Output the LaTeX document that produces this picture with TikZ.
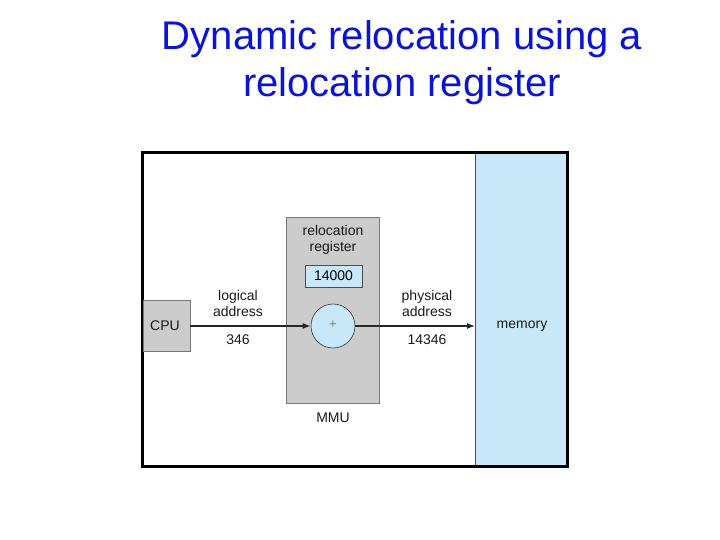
\documentclass[tikz,border=0pt]{standalone}
\usepackage{fontspec}
\setmainfont{Liberation Sans}
\definecolor{titleblue}{RGB}{10,20,210}
\definecolor{boxgray}{RGB}{204,204,204}
\definecolor{edgegray}{RGB}{120,120,120}
\definecolor{lightblue}{RGB}{200,232,250}
\usetikzlibrary{arrows.meta}
\tikzset{
  lbl/.style={font=\fontsize{14}{16}\selectfont, text=black!90, align=center, inner sep=0pt},
  graybox/.style={draw=edgegray, fill=boxgray, line width=0.6pt},
  conn/.style={draw=black!85, line width=1.2pt, -{Latex[length=8pt,width=6pt]}}
}
\begin{document}
\begin{tikzpicture}[x=1pt,y=-1pt]
\useasboundingbox (0,0) rectangle (720,540);
% title
\node[font=\fontsize{40}{47}\selectfont, text=titleblue, align=center, inner sep=0pt] (title) at (402,63) {Dynamic relocation using a\\relocation register};
% memory
\node[draw=black!70, fill=lightblue, line width=0.6pt, minimum width=92pt, minimum height=313pt, inner sep=0pt] (mem) at (521,309.5) {};
\node[lbl] (memtxt) at (522,326) {memory};
% outer frame
\draw[line width=3pt] (142,153) rectangle (567,466);
% CPU
\node[graybox, minimum width=47pt, minimum height=51pt, inner sep=0pt] (cpu) at (166.5,325.5) {};
\node[lbl] (cputxt) at (165,326) {CPU};
% MMU
\node[graybox, minimum width=93pt, minimum height=186pt, inner sep=0pt] (mmu) at (332.5,310) {};
\node[lbl] (rr) at (333,240) {relocation\\[0pt]register};
\node[draw=black!70, fill=lightblue, line width=0.6pt, minimum width=57pt, minimum height=22pt, inner sep=0pt, font=\fontsize{14}{16}\selectfont] (reg) at (333.5,276) {14000};
\node[circle, draw=black!80, fill=lightblue, line width=0.6pt, minimum size=44pt, inner sep=0pt] (add) at (333,326) {};
\node[text=black!50, font=\fontsize{13}{13}\selectfont] (plus) at (333,325) {+};
\node[lbl] (mmutxt) at (333,418) {MMU};
% arrows
\coordinate (memin) at (475,326);
\draw[conn] (cpu.east |- add.west) -- (add.west);
\draw[conn] (add.east) -- (memin);
% labels
\node[lbl] (la) at (238,303) {logical\\[0pt]address};
\node[lbl] (v1) at (238,340) {346};
\node[lbl] (pa) at (427,303) {physical\\[0pt]address};
\node[lbl] (v2) at (427,340) {14346};
\end{tikzpicture}
\end{document}
